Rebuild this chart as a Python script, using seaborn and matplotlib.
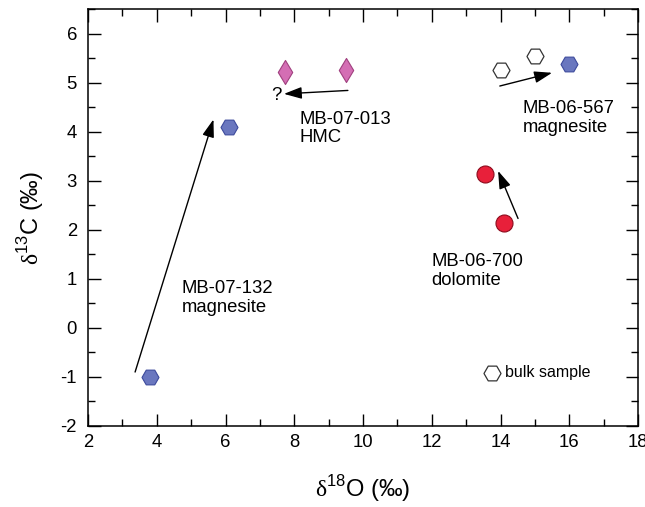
import matplotlib
matplotlib.use("Agg")
import matplotlib.pyplot as plt
from matplotlib.ticker import MultipleLocator
import seaborn as sns
import pandas as pd

# ---- data ----
mag_x = [3.8, 6.1, 16.0]
mag_y = [-1.0, 4.1, 5.37]
bulk_x = [14.0, 15.0]
bulk_y = [5.26, 5.55]
hmc_x = [7.73, 9.5]
hmc_y = [5.21, 5.26]
dol_x = [13.54, 14.1]
dol_y = [3.13, 2.14]

# arrows: (start_x, start_y, end_x, end_y)
arrows = [
    (3.37, -0.90, 5.65, 4.25),
    (9.56, 4.84, 7.70, 4.77),
    (13.98, 4.93, 15.50, 5.20),
    (14.51, 2.23, 13.93, 3.20),
]
labels = ["MB-07-132\nmagnesite", "MB-07-013\nHMC", "MB-06-567\nmagnesite", "MB-06-700\ndolomite"]
label_x = [4.73, 8.16, 14.65, 11.99]
label_y = [0.97, 4.43, 4.64, 1.52]

sns.set_style("ticks")
plt.rcParams['font.family'] = ['Liberation Sans', 'DejaVu Sans']
plt.rcParams['mathtext.fontset'] = 'custom'
plt.rcParams['mathtext.rm'] = 'Liberation Serif'
plt.rcParams['mathtext.sf'] = 'Liberation Sans'
plt.rcParams['axes.unicode_minus'] = False
for k in ['text.color', 'axes.labelcolor', 'xtick.color', 'ytick.color', 'axes.edgecolor']:
    plt.rcParams[k] = 'black'

fig = plt.figure(figsize=(6.45, 5.07), dpi=100)
ax = fig.add_axes([88/645, 81/507, 550/645, 417/507])

mag = pd.DataFrame({'x': mag_x, 'y': mag_y})
bulk = pd.DataFrame({'x': bulk_x, 'y': bulk_y})
hmc = pd.DataFrame({'x': hmc_x, 'y': hmc_y})
dol = pd.DataFrame({'x': dol_x, 'y': dol_y})

sns.scatterplot(data=mag, x='x', y='y', marker='H', s=150, color='#6a77bf',
                edgecolor='#3d4a9c', linewidth=0.8, ax=ax, zorder=3)
sns.scatterplot(data=bulk, x='x', y='y', marker='H', s=150, color='white',
                edgecolor='#333333', linewidth=0.9, ax=ax, zorder=3, label='bulk sample')
sns.scatterplot(data=hmc, x='x', y='y', marker='d', s=150, color='#d46eb4',
                edgecolor='#a0407f', linewidth=0.8, ax=ax, zorder=3)
sns.scatterplot(data=dol, x='x', y='y', marker='o', s=150, color='#e8203a',
                edgecolor='#8c0b1c', linewidth=0.8, ax=ax, zorder=3)

for (x0, y0, x1, y1) in arrows:
    ax.annotate('', xy=(x1, y1), xytext=(x0, y0),
                arrowprops=dict(arrowstyle='-|>,head_length=0.9,head_width=0.3',
                                color='black', lw=1.0, mutation_scale=12,
                                shrinkA=0, shrinkB=0))

for t, lx, ly in zip(labels, label_x, label_y):
    ax.text(lx, ly, t, fontsize=13.3, ha='left', va='top', linespacing=1.12, color='black')
ax.text(7.48, 4.74, '?', fontsize=13.3, ha='center', va='center', color='black')

ax.set_xlim(2, 18)
ax.set_ylim(-2, 6.5)
ax.xaxis.set_major_locator(MultipleLocator(2))
ax.xaxis.set_minor_locator(MultipleLocator(1))
ax.yaxis.set_major_locator(MultipleLocator(1))
ax.yaxis.set_minor_locator(MultipleLocator(0.5))
ax.tick_params(which='both', direction='in', top=True, right=True, width=1.0,
               color='black', labelcolor='black')
ax.tick_params(which='major', length=9, labelsize=13.3)
ax.tick_params(which='minor', length=4.7)
ax.tick_params(axis='x', which='major', pad=6)
ax.tick_params(axis='y', which='major', pad=8)
for s in ax.spines.values():
    s.set_linewidth(1.1)
    s.set_color('black')

ax.set_xlabel(r'$\mathrm{\delta}^{\mathsf{18}}$O (‰)', fontsize=17, labelpad=16, color='black')
ax.set_ylabel(r'$\mathrm{\delta}^{\mathsf{13}}$C (‰)', fontsize=17, labelpad=10, color='black')

leg = ax.legend(loc='center left', bbox_to_anchor=(0.708, 0.128), frameon=False,
                fontsize=11.5, handletextpad=0.3, borderaxespad=0, handlelength=1.0)
for t in leg.get_texts():
    t.set_color('black')

fig.savefig('out.png', dpi=100)
